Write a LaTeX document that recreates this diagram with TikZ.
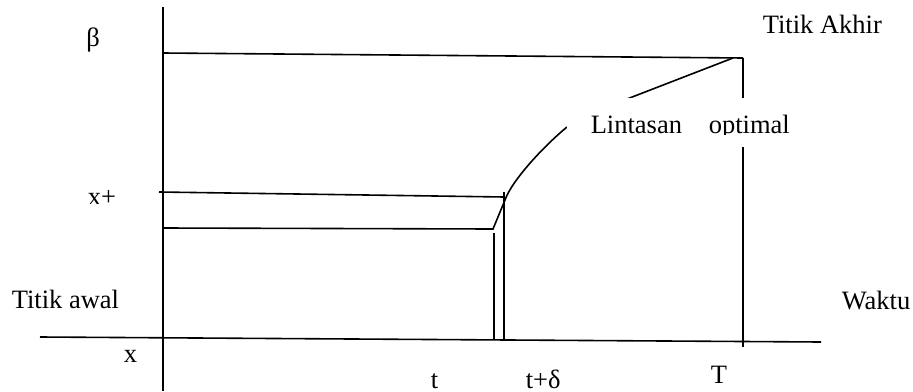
\documentclass[tikz,border=0pt]{standalone}
\usepackage{fontspec}
\setmainfont{Liberation Serif}
\begin{document}
\begin{tikzpicture}[x=1pt,y=-1pt,line width=1.6pt,
  lab/.style={inner sep=0pt,anchor=base west,font=\fontsize{26.5}{31}\selectfont},
  thinline/.style={line width=1.2pt}]
\useasboundingbox (0,0) rectangle (913,391);
% coordinates
\coordinate (axTop) at (163,7);
\coordinate (axBot) at (163,391);
\coordinate (hL) at (40,337);
\coordinate (hR) at (821,342);
\coordinate (bL) at (163,53);
\coordinate (bR) at (743,58);
\coordinate (TBot) at (743,347);
\coordinate (xpL) at (159,192);
\coordinate (xpR) at (504,197);
\coordinate (v2Top) at (504,192);
\coordinate (v2Bot) at (504,341);
\coordinate (lowL) at (163,228);
\coordinate (lowR) at (493,229);
\coordinate (v1Top) at (494,233);
\coordinate (v1Bot) at (494,340);
\coordinate (c0) at (505,200);
\coordinate (c1) at (567,127);
\coordinate (sl0) at (733,58);
\coordinate (sl1) at (627,99);
% axes
\draw (axTop) -- (axBot);
\draw (hL) -- (hR);
% top level beta
\draw (bL) -- (bR);
\draw[thinline] (bR) -- (TBot);
\draw (sl0) -- (sl1);
% x+ level
\draw (xpL) -- (xpR);
\draw (v2Top) -- (v2Bot);
% x level
\draw (lowL) -- (lowR) -- (c0) .. controls (512,180) and (545,145) .. (c1);
\draw (v1Top) -- (v1Bot);
% white label box
\fill[white] (567,98) rectangle (780,147);
\begin{scope}
\clip (560,90) rectangle (800,134.5);
\node[lab] (lin) at (590,133) {Lintasan};
\node[lab] (opt) at (708,133) {optimal};
\end{scope}
% labels
\node[inner sep=0pt,font=\fontsize{26.5}{31}\selectfont] (beta) at (93,40) {β};
\node[lab] (akhir) at (762,33) {Titik Akhir};
\node[lab] (awal) at (11,308) {Titik awal};
\node[lab] (waktu) at (841,309) {Waktu};
\node[lab] (xlab) at (123,362) {x};
\begin{scope}
\clip (60,170) rectangle (150,203.5);
\node[lab] (xplus) at (87,205) {x+};
\end{scope}
\node[lab] (tlab) at (430,388) {t};
\node[lab] (tdlab) at (525,388) {t+δ};
\node[lab] (Tlab) at (710,383) {T};
\end{tikzpicture}
\end{document}
